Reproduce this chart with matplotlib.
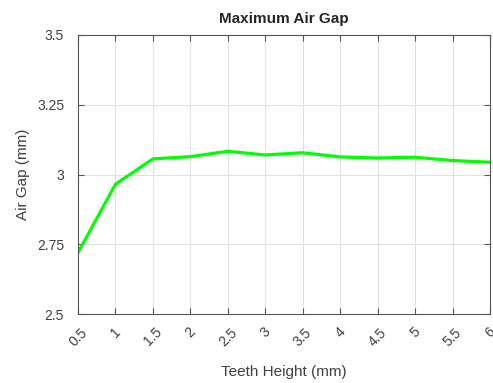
import numpy as np
import matplotlib.pyplot as plt

teeth_height = [0.5, 1, 1.5, 2, 2.5, 3, 3.5, 4, 4.5, 5, 5.5, 6]
air_gap = [2.72, 2.965, 3.056, 3.064, 3.083, 3.070, 3.078, 3.063, 3.059, 3.062, 3.050, 3.044]

x_ticks = [0.5, 1, 1.5, 2, 2.5, 3, 3.5, 4, 4.5, 5, 5.5, 6]
x_labels = ['0.5', '1', '1.5', '2', '2.5', '3', '3.5', '4', '4.5', '5', '5.5', '6']
y_ticks = [2.5, 2.75, 3, 3.25, 3.5]
y_labels = ['2.5', '2.75', '3', '3.25', '3.5']

plt.rcParams['font.family'] = ['Liberation Sans', 'DejaVu Sans']

fig = plt.figure(figsize=(4.93, 3.83), dpi=100)
ax = fig.add_axes([78 / 493, 1 - 314 / 383, (490 - 78) / 493, (314 - 35) / 383])

ax.plot(teeth_height, air_gap, color='#00ff00', linewidth=2.3)

ax.set_xlim(0.5, 6)
ax.set_ylim(2.5, 3.5)
ax.set_xticks(x_ticks)
ax.set_xticklabels(x_labels, rotation=45, ha='center', va='top')
ax.set_yticks(y_ticks)
ax.set_yticklabels(y_labels)

gray = '#404040'
ax.grid(True, color='#e0e0e0', linewidth=0.7)
ax.set_axisbelow(True)
for s in ax.spines.values():
    s.set_color('#555555')
    s.set_linewidth(0.8)
ax.tick_params(direction='in', length=4, colors='#555555', labelcolor=gray,
               labelsize=10, top=True, right=True)
ax.tick_params(axis='x', pad=8)
ax.tick_params(axis='y', pad=10)

ax.set_xlabel('Teeth Height (mm)', fontsize=11, color=gray, labelpad=12)
ax.set_ylabel('Air Gap (mm)', fontsize=11, color=gray, labelpad=5)
ax.set_title('Maximum Air Gap', fontsize=11, fontweight='bold', color='#262626', pad=9)

fig.savefig('out.png', dpi=100)
